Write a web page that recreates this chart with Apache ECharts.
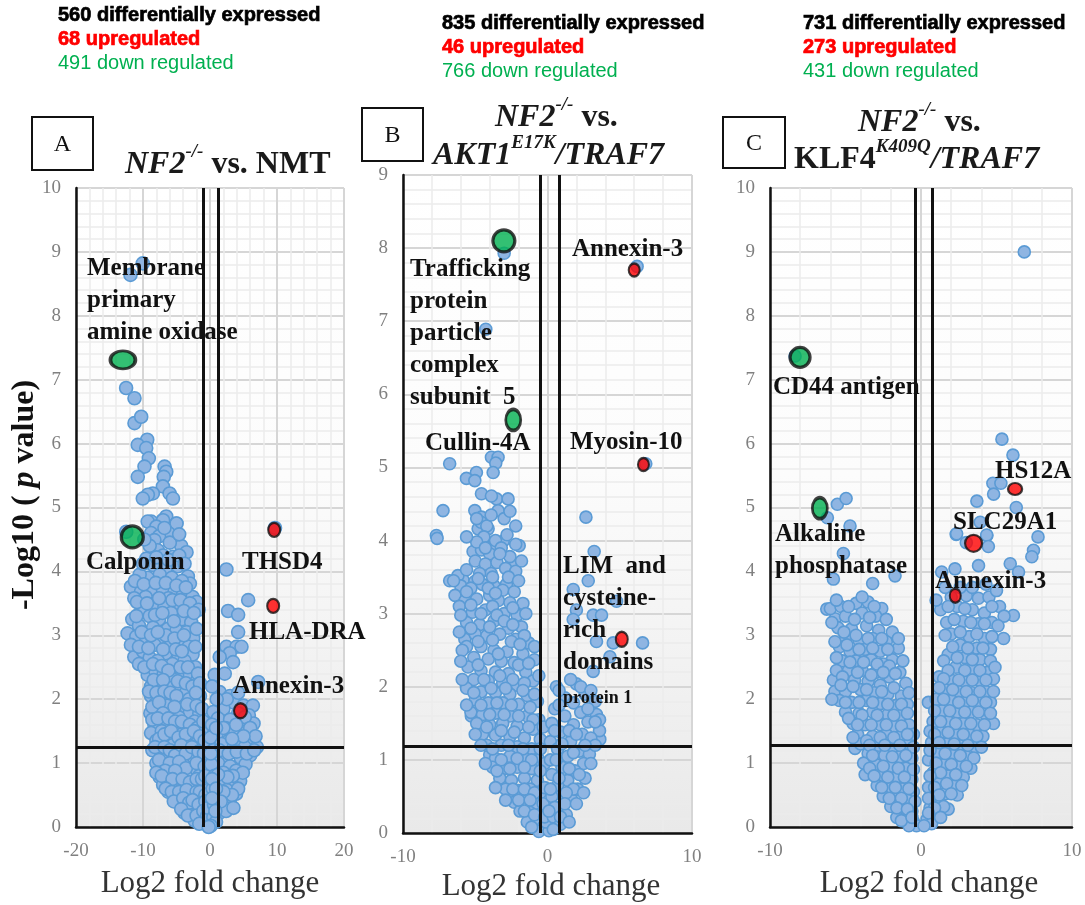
<!DOCTYPE html>
<html><head><meta charset="utf-8">
<script src="https://cdn.jsdelivr.net/npm/echarts@6/dist/echarts.min.js"></script>
<style>html,body{margin:0;padding:0;background:#fff}#c{width:1085px;height:905px}</style>
</head><body><div id="c"></div>
<script>
// ---------------- DATA ----------------
// Panel A: NF2-/- vs NMT
const aBlue = [
  [-10.03,8.82],[-11.87,8.64],[-12.52,6.87],[-11.27,6.71],[-11.27,6.32],[-10.27,6.42],[-9.37,6.06],[-10.78,5.98],[-9.52,5.93],[-9.13,5.77],
  [-9.78,5.64],[-6.78,5.64],[-6.53,5.56],[-6.9,5.48],[-10.78,5.48],[-7.03,5.33],[-6.03,5.22],[-5.53,5.14],[-8.53,5.22],[-9.28,5.2],
  [-10.03,5.14],[-8.77,4.78],[-7.03,4.8],[-6.53,4.86],[-5.03,4.75],[-5.28,4.65],[-12.5,4.62],[9.7,4.68],
  [-9.3,4.78],[-7.0,4.8],[-8.0,4.7],[-5.0,4.75],[-8.8,4.6],[-6.2,4.6],[-7.6,4.55],
  [-8.3,4.49],[-4.3,4.4],[-7.8,4.33],[-9.0,4.4],[-6.0,4.45],[-5.5,4.23],[-7.0,4.25],[-9.5,4.2],[-3.5,4.3],
  [-8.5,4.1],[-6.6,4.05],[-4.8,4.08],[-3.3,3.92],[-3.0,3.81],[-7.5,3.95],[-9.3,3.9],[-10.5,3.95],[-5.7,3.9],[-4.2,3.85],
  [-11.8,3.76],[-10.3,3.68],[-8.8,3.72],[-7.0,3.7],[-5.3,3.68],[-4.0,3.65],[-2.6,3.6],[-9.6,3.6],[-6.2,3.58],
  [-11.3,3.58],[-2.0,3.52],[-8.2,3.5],[-6.8,3.45],[-4.8,3.48],[-3.4,3.42],[-10.2,3.4],[-5.8,3.35],[-9.0,3.3],
  [-11.6,3.25],[-7.6,3.25],[-4.2,3.25],[-2.8,3.2],[-10.6,3.15],[-8.5,3.12],[-6.3,3.1],[-5.0,3.08],[-3.5,3.05],
  [-12.3,3.03],[-11.0,2.98],[-9.5,2.95],[-7.2,2.95],[-2.5,2.95],[-4.5,2.9],[-8.3,2.85],[-5.8,2.85],[-3.2,2.82],
  [-11.3,2.66],[-10.0,2.75],[-6.6,2.72],[-2.6,2.7],[-9.0,2.65],[-7.8,2.6],[-4.8,2.62],[-3.8,2.6],[-5.6,2.55],[-2.2,2.5],
  [-9.3,2.38],[-8.2,2.45],[-6.9,2.4],[-4.2,2.4],[-3.0,2.38],[-5.3,2.3],[-7.6,2.25],[-2.0,2.28],[-8.8,2.2],[-6.2,2.18],
  [-8.8,2.05],[-4.6,2.12],[-3.6,2.1],[-7.2,2.02],[-1.5,2.05],[-5.5,2.0],[-2.6,1.98],[-8.2,1.92],[-6.4,1.9],[-4.0,1.88],
  [-8.9,1.78],[-7.5,1.8],[-3.0,1.8],[-1.6,1.78],[-5.8,1.75],[-4.7,1.72],[-6.8,1.65],[-2.3,1.65],[-8.3,1.6],[-3.6,1.6],
  [-8.8,1.47],[-7.2,1.5],[-5.2,1.52],[-1.2,1.5],[-4.2,1.45],[-2.8,1.42],[-6.3,1.4],[-8.0,1.35],[-1.8,1.33],[-3.5,1.3],[-5.6,1.28],
  [-8.6,1.2],[-7.3,1.18],[-4.8,1.18],[-2.2,1.15],[-6.4,1.1],[-3.2,1.08],[-1.3,1.05],[-8.0,1.0],[-5.5,1.0],[-4.0,0.98],[-7.0,0.92],[-2.6,0.92],
  [-7.5,0.78],[-6.0,0.82],[-4.6,0.8],[-3.5,0.78],[-1.6,0.8],[-7.0,0.66],[-5.3,0.65],[-2.5,0.68],[-4.0,0.6],[-1.0,0.62],[-6.2,0.55],[-3.0,0.5],[-5.0,0.48],
  [-4.5,0.38],[-3.6,0.35],[-2.2,0.4],[-1.2,0.42],[-2.8,0.25],[-1.7,0.22],[-0.8,0.28],[-3.8,0.22],[-2.3,0.1],[-1.2,0.08],[-0.6,0.05],[-0.9,0.15],
  [-9.8,4.5],[-4.6,4.58],[-6.8,4.68],[-10.0,4.12],[-8.0,4.22],[-6.2,4.18],[-4.6,4.25],[-3.8,4.12],
  [-11.2,3.85],[-9.9,3.8],[-8.1,3.82],[-6.6,3.82],[-5.0,3.78],[-3.6,3.75],
  [-10.9,3.52],[-9.4,3.5],[-7.6,3.58],[-5.6,3.55],[-4.4,3.55],[-3.0,3.5],[-1.7,3.4],
  [-11.0,3.3],[-8.2,3.32],[-7.1,3.35],[-5.4,3.22],[-3.9,3.38],[-2.4,3.35],
  [-10.2,3.05],[-8.8,3.0],[-6.6,3.0],[-5.3,2.95],[-3.9,3.0],[-2.0,3.1],[-7.8,3.05],
  [-11.8,2.85],[-10.6,2.82],[-9.2,2.8],[-7.0,2.78],[-5.1,2.78],[-4.2,2.75],[-2.2,2.82],
  [-10.6,2.55],[-9.8,2.5],[-8.5,2.55],[-7.2,2.52],[-6.2,2.45],[-4.4,2.5],[-3.3,2.5],[-1.8,2.4],
  [-8.4,2.3],[-7.0,2.3],[-4.8,2.28],[-3.6,2.25],[-2.6,2.2],[-1.5,2.25],
  [-9.1,2.12],[-8.0,2.1],[-6.8,2.12],[-5.9,2.1],[-5.0,2.05],[-3.1,2.0],[-2.1,2.1],
  [-8.6,1.88],[-7.6,1.95],[-5.3,1.88],[-3.4,1.92],[-2.0,1.9],[-1.2,1.85],[-7.0,1.78],
  [-8.6,1.68],[-7.8,1.7],[-6.2,1.7],[-5.2,1.65],[-4.2,1.65],[-3.0,1.6],[-1.9,1.55],[-1.0,1.65],
  [-7.6,1.38],[-6.8,1.45],[-5.8,1.5],[-4.7,1.4],[-3.6,1.45],[-2.4,1.5],[-1.5,1.42],[-0.8,1.35],
  [-8.2,1.25],[-6.8,1.25],[-6.0,1.2],[-5.2,1.12],[-4.3,1.28],[-3.6,1.15],[-2.7,1.25],[-1.7,1.18],[-0.9,1.15],
  [-7.6,1.05],[-6.0,1.0],[-4.6,1.02],[-3.6,0.92],[-2.0,1.0],[-0.8,0.95],[-6.7,0.88],[-5.2,0.88],
  [-8.0,0.85],[-7.2,0.8],[-5.6,0.75],[-4.1,0.75],[-3.0,0.7],[-2.0,0.75],[-1.2,0.75],[-0.7,0.8],
  [-6.6,0.6],[-5.7,0.55],[-4.6,0.55],[-3.5,0.58],[-2.0,0.55],[-1.5,0.55],[-0.7,0.5],
  [-5.4,0.4],[-4.0,0.45],[-3.1,0.38],[-2.6,0.42],[-1.7,0.35],[-0.7,0.4],
  [-4.3,0.28],[-3.3,0.18],[-2.0,0.18],[-1.0,0.25],[-0.4,0.18],[-1.6,0.05],[-0.3,0.3],
  [2.45,4.03],[5.7,3.55],[2.7,3.38],[4.2,3.32],[4.2,3.05],[2.45,2.82],[3.95,2.82],[4.7,2.82],[2.95,2.72],[1.45,2.66],[3.45,2.58],[0.7,2.38],[7.19,2.27],[1.45,2.11],[3.0,2.05],
  [3.5,1.95],[5.0,1.9],[6.4,1.9],[2.0,1.85],[0.5,1.8],[4.2,1.78],[5.8,1.75],[1.2,1.7],[3.0,1.68],[6.5,1.62],[0.3,1.6],[4.8,1.6],[2.3,1.55],[5.5,1.5],[3.6,1.48],
  [1.0,1.45],[0.1,1.4],[6.2,1.38],[4.3,1.35],[2.8,1.35],[1.7,1.3],[7.0,1.25],[5.2,1.25],[0.5,1.2],[3.5,1.18],[6.0,1.12],[2.2,1.1],[4.6,1.08],[1.2,1.0],[0.2,0.98],
  [5.3,0.98],[3.0,0.95],[3.9,0.88],[2.0,0.85],[0.7,0.8],[4.5,0.72],[1.5,0.7],[3.2,0.68],[2.5,0.58],[0.4,0.6],[3.9,0.52],[1.2,0.48],[2.9,0.4],[0.6,0.35],[2.0,0.32],
  [1.4,0.22],[0.5,0.15],[0.9,0.08],[0.1,0.02],[-0.2,0.0],
  [0.3,2.2],[2.2,2.4],[2.5,2.0],[4.2,2.1],[1.0,2.0],[5.2,1.72],[6.0,1.55],[3.9,1.6],[2.0,1.55],[0.9,1.55],[6.8,1.42],[5.0,1.42],[3.3,1.38],
  [1.4,1.2],[2.8,1.15],[4.0,1.18],[5.5,1.15],[6.6,1.2],[0.1,1.15],[4.9,0.85],[3.4,0.8],[2.6,0.78],[1.2,0.82],[0.3,0.75],[4.2,0.6],[3.3,0.5],
  [2.0,0.55],[0.9,0.6],[2.4,0.25],[1.6,0.4],[0.3,0.45],[0.8,0.25],[3.5,0.3]
];
const aGreen = [[-13.0,7.31],[-11.6,4.54]];
const aRed = [[9.58,4.65],[9.43,3.46],[4.55,1.82]];

// Panel B: NF2-/- vs AKT1 E17K / TRAF7
const bBlue = [
  [-3.0,7.93],[-4.27,6.89],[-6.77,5.05],[-3.88,5.14],[-3.42,5.14],[-3.58,5.06],[-4.92,4.93],[-5.61,4.85],[-5.03,4.82],[-3.76,4.93],
  [-4.57,4.64],[-3.53,4.57],[-2.73,4.57],[-3.88,4.61],[-7.23,4.41],[-5.03,4.41],[-4.57,4.32],[-3.42,4.41],[2.66,4.32],[-7.69,4.07],
  [-4.8,4.16],[-4.11,4.16],[6.2,7.75],[6.8,5.05],
  [-7.64,4.03],[-4.6,4.25],[-4.2,4.2],[-5.15,3.85],[-4.57,3.87],[-3.88,3.92],[-3.07,3.99],[-1.96,3.93],[3.23,3.85],[-6.77,3.45],
  [-5.84,3.46],[-5.03,3.44],[-2.84,3.4],[-2.5,3.67],[2.82,3.45],[1.78,3.33],[4.78,3.17],[2.0,3.05],[3.16,2.98],[3.74,2.98],
  [1.78,2.92],[-5.72,2.65],[3.39,2.62],[4.55,2.6],[6.58,2.6],[4.32,2.41],[3.16,2.21],[2.0,2.04],[0.62,2.0],[-5.61,2.0],
  [-5.27,1.6],[3.39,1.62],[3.62,1.28],[-4.0,1.07],[-2.73,0.5],
  [-4.4,4.05],[-3.6,4.0],[-2.8,4.08],[-2.2,3.95],[-4.9,3.98],[-3.2,3.9],[-4.0,3.82],[-2.6,3.78],
  [-5.0,3.72],[-4.3,3.68],[-3.5,3.7],[-2.9,3.62],[-2.2,3.58],[-3.9,3.55],[-4.7,3.55],[-6.2,3.52],
  [-6.0,3.38],[-5.3,3.35],[-4.5,3.4],[-3.7,3.38],[-3.1,3.32],[-2.3,3.3],[-6.4,3.25],[-4.0,3.25],
  [-5.7,3.18],[-4.9,3.2],[-3.4,3.18],[-2.6,3.15],[-1.7,3.14],[-6.1,3.1],[-4.3,3.05],[-3.0,3.0],[-5.2,3.02],[-2.1,2.98],
  [-5.6,2.88],[-4.7,2.85],[-3.7,2.9],[-1.8,2.82],[-2.7,2.8],[-5.0,2.72],[-4.2,2.7],[-3.3,2.72],[-2.2,2.65],[-1.3,2.6],
  [-5.6,2.55],[-4.6,2.55],[-3.7,2.5],[-2.8,2.48],[-1.7,2.45],[-5.1,2.4],[-4.1,2.38],[-3.2,2.35],[-2.3,2.33],[-0.9,2.37],[-5.5,2.27],
  [-4.6,2.22],[-3.6,2.2],[-2.7,2.18],[-1.5,2.2],[-1.0,2.08],[-5.1,2.1],[-4.1,2.08],[-3.1,2.05],[-2.1,2.02],[-5.6,1.98],[-4.6,1.93],
  [-3.6,1.92],[-2.6,1.9],[-1.4,1.88],[-5.0,1.82],[-4.1,1.78],[-3.1,1.78],[-2.0,1.76],[-0.7,1.8],[-5.3,1.65],[-4.5,1.62],[-3.6,1.64],
  [-2.6,1.6],[-1.4,1.6],[-0.6,1.55],[-4.9,1.5],[-4.0,1.48],[-3.1,1.5],[-2.1,1.46],[-1.0,1.42],[-4.5,1.35],[-3.6,1.34],[-2.6,1.32],[-1.6,1.3],[-0.5,1.28],
  [-4.2,1.2],[-3.2,1.2],[-2.1,1.18],[-1.1,1.15],[-3.6,1.02],[-2.6,1.05],[-1.6,1.02],[-0.6,1.0],
  [-3.8,0.9],[-3.0,0.88],[-2.1,0.9],[-1.1,0.88],[-3.3,0.75],[-2.5,0.72],[-1.6,0.75],[-0.7,0.72],[-2.9,0.6],[-2.0,0.58],[-1.2,0.6],[-0.5,0.55],
  [-2.3,0.42],[-1.6,0.45],[-0.9,0.4],[-1.9,0.3],[-1.2,0.28],[-0.5,0.25],[-1.4,0.15],[-0.8,0.12],[-0.3,0.08],[-0.6,0.02],[0.1,0.03],[-0.1,0.15],
  [-3.9,4.35],[-3.0,4.3],[-2.2,4.2],[-4.9,4.3],[-5.6,4.05],[-2.6,4.4],
  [-5.6,3.6],[-4.3,3.9],[-3.3,3.82],[-2.7,3.5],[-1.8,3.72],[-3.8,3.5],
  [-6.5,3.45],[-5.6,3.3],[-4.8,3.48],[-4.1,3.35],[-2.0,3.45],[-3.6,3.28],
  [-6.0,2.98],[-5.3,3.12],[-4.6,3.0],[-3.8,3.1],[-2.4,3.08],[-1.5,3.0],[-3.5,2.98],
  [-6.1,2.75],[-5.3,2.8],[-4.0,2.82],[-3.0,2.9],[-2.4,2.85],[-1.6,2.7],[-0.9,2.55],[-5.9,2.5],
  [-4.8,2.62],[-3.8,2.64],[-2.5,2.62],[-1.9,2.58],[-3.4,2.45],[-2.0,2.3],[-1.3,2.32],[-4.8,2.3],[-6.0,2.35],
  [-5.9,2.1],[-4.4,2.1],[-3.3,2.15],[-2.4,2.1],[-1.6,2.05],[-0.6,2.15],[-5.1,1.92],[-3.9,1.98],[-2.9,1.98],[-1.7,1.95],[-0.9,1.9],
  [-5.6,1.75],[-4.6,1.75],[-3.5,1.78],[-2.5,1.75],[-1.2,1.72],[-4.0,1.62],[-3.0,1.62],[-2.0,1.6],[-1.0,1.55],
  [-5.0,1.35],[-4.2,1.45],[-3.2,1.4],[-2.3,1.38],[-1.3,1.45],[-0.3,1.45],
  [-4.6,1.2],[-3.8,1.15],[-2.7,1.2],[-1.7,1.15],[-0.5,1.15],[-3.2,1.0],[-2.1,1.02],[-1.1,1.0],[-0.2,0.95],
  [-4.3,0.95],[-3.5,0.85],[-2.6,0.88],[-1.6,0.9],[-0.5,0.85],[-3.6,0.62],[-2.4,0.6],[-1.6,0.6],[-0.9,0.55],[-0.2,0.62],
  [-2.9,0.45],[-2.0,0.45],[-1.2,0.45],[-0.3,0.4],[-1.6,0.3],[-0.9,0.25],[-1.1,0.08],[-0.2,0.22],
  [1.2,1.85],[2.6,1.9],[3.3,1.8],[1.8,1.78],[0.5,1.7],[2.3,1.65],[1.2,1.6],[0.3,1.5],[2.8,1.52],[1.8,1.48],[3.6,1.4],[0.9,1.38],[2.4,1.35],
  [3.0,1.3],[0.2,1.25],[1.6,1.25],[0.7,1.15],[2.2,1.12],[2.9,1.08],[1.4,1.05],[0.2,1.0],[2.5,0.95],[1.0,0.9],[1.9,0.85],[0.3,0.8],[2.6,0.75],
  [1.4,0.72],[0.7,0.65],[2.1,0.6],[1.0,0.52],[0.3,0.5],[1.7,0.45],[0.8,0.35],[1.3,0.25],[0.4,0.22],[0.9,0.12],[0.4,0.05],
  [0.8,1.95],[1.6,2.1],[2.3,2.0],[3.0,1.95],[0.8,1.75],[2.8,1.7],[3.6,1.55],[1.5,1.4],[0.5,1.4],[2.0,1.35],[3.3,1.2],[1.0,1.22],[2.6,1.2],
  [1.8,1.1],[0.6,1.0],[3.0,0.95],[1.5,0.88],[2.2,0.8],[0.8,0.75],[1.8,0.6],[2.5,0.55],[1.3,0.55],[0.5,0.35],[1.2,0.4],[2.0,0.4],[0.9,0.22],
  [1.5,0.15],[0.1,0.3],[0.2,0.6],[3.3,1.52]
];
const bGreen = [[-3.02,8.1],[-2.37,5.65]];
const bRed = [[6.0,7.7],[6.64,5.04],[5.14,2.65]];

// Panel C: NF2-/- vs KLF4 K409Q / TRAF7
const cBlue = [
  [6.84,9.0],[-8.34,7.37],[5.36,6.07],[6.09,5.82],[4.76,5.38],[5.29,5.38],[4.81,5.21],[3.7,5.1],[6.31,5.0],[7.75,4.54],
  [3.92,4.77],[2.33,4.58],[4.36,4.56],[-5.54,5.05],[-4.96,5.14],[-6.2,4.84],[-4.7,4.71],[7.45,4.33],[7.34,4.23],[3.81,4.09],
  [5.91,4.12],[6.46,3.99],[2.25,4.04],[1.37,3.99],[-1.72,3.93],[-3.2,3.81],[-5.14,4.28],[-5.8,3.88],[6.12,3.31],[5.47,2.95],
  [4.8,1.62],[-4.37,1.23],[-3.7,0.82],[-6.24,3.41],[-5.69,3.26],[0.49,1.95],[2.36,4.59],[4.35,4.57],[4.46,4.39],[3.0,4.45],
  [-6.0,3.42],[-5.3,3.45],[-4.3,3.5],[-3.5,3.52],[-2.6,3.42],[-5.0,3.3],[-3.9,3.35],[-3.0,3.3],
  [-5.5,3.12],[-4.6,3.1],[-3.6,3.15],[-2.8,3.08],[-1.9,3.05],[-5.0,2.95],[-4.1,2.92],[-3.2,2.95],[-2.3,2.9],
  [-5.4,2.82],[-4.7,2.75],[-3.7,2.78],[-2.7,2.75],[-1.5,2.8],[-1.9,2.62],[-5.2,2.6],[-4.3,2.6],[-3.3,2.62],[-2.5,2.55],
  [-5.8,2.3],[-5.6,2.45],[-4.8,2.45],[-3.9,2.45],[-3.0,2.42],[-1.4,2.42],[-2.1,2.35],[-4.4,2.3],[-3.5,2.28],[-1.0,2.25],[-2.7,2.22],
  [-5.7,2.12],[-5.0,2.12],[-4.0,2.15],[-3.1,2.1],[-2.2,2.08],[-1.3,2.05],[-5.4,1.98],[-4.6,1.95],[-3.6,1.98],[-2.7,1.93],[-1.7,1.9],[-0.9,1.92],
  [-5.0,1.8],[-4.1,1.78],[-3.2,1.8],[-2.2,1.76],[-1.3,1.75],[-4.5,1.62],[-3.7,1.6],[-2.7,1.6],[-1.8,1.58],[-0.8,1.6],[-4.2,1.45],[-3.2,1.42],[-2.3,1.45],[-1.3,1.42],
  [-4.0,1.3],[-2.8,1.28],[-1.9,1.25],[-0.8,1.3],[-3.5,1.15],[-2.4,1.12],[-1.4,1.1],[-0.6,1.08],[-3.8,1.0],[-3.0,0.98],[-2.0,0.95],[-1.0,0.92],
  [-2.6,0.8],[-1.6,0.78],[-0.6,0.75],[-2.9,0.65],[-2.1,0.62],[-1.2,0.6],[-0.5,0.55],[-2.5,0.48],[-1.7,0.45],[-0.9,0.42],[-2.0,0.32],[-1.3,0.28],
  [-0.6,0.25],[-1.6,0.15],[-1.0,0.12],[-0.5,0.08],[-0.3,0.02],[-0.8,0.02],
  [-5.6,3.55],[-4.8,3.45],[-3.9,3.6],[-3.1,3.45],[-2.3,3.25],[-4.4,3.25],[-3.4,3.28],[-5.9,3.2],
  [-5.1,3.05],[-4.3,3.0],[-3.5,2.95],[-2.6,2.95],[-1.5,2.95],[-5.7,2.9],[-4.9,2.85],[-4.1,2.78],[-3.2,2.8],[-2.2,2.78],
  [-5.6,2.65],[-4.7,2.58],[-3.8,2.58],[-2.9,2.55],[-2.1,2.52],[-1.2,2.6],[-5.2,2.35],[-4.2,2.42],[-3.3,2.38],[-2.5,2.42],[-1.7,2.4],
  [-5.3,2.22],[-4.5,2.2],[-3.6,2.15],[-2.6,2.12],[-1.8,2.18],[-0.8,2.1],[-5.9,2.0],[-5.0,1.95],[-4.1,1.95],[-3.2,1.95],[-2.2,1.92],[-1.3,1.92],
  [-4.8,1.7],[-3.9,1.75],[-2.9,1.75],[-1.8,1.75],[-0.9,1.78],[-4.2,1.6],[-3.3,1.6],[-2.3,1.6],[-1.3,1.58],[-0.5,1.45],
  [-4.5,1.4],[-3.6,1.35],[-2.7,1.4],[-1.8,1.4],[-0.9,1.45],[-3.4,1.28],[-2.4,1.28],[-1.4,1.28],[-0.5,1.25],
  [-3.2,1.12],[-1.9,1.1],[-1.0,1.12],[-3.4,0.92],[-2.5,0.95],[-1.5,0.92],[-0.5,0.9],
  [-3.1,0.8],[-2.2,0.78],[-1.1,0.78],[-2.6,0.62],[-1.7,0.62],[-0.8,0.6],[-2.1,0.45],[-1.3,0.45],[-0.4,0.4],[-1.6,0.3],[-0.9,0.28],[-1.3,0.1],[-0.6,0.15],
  [2.0,3.6],[3.0,3.62],[3.8,3.58],[4.5,3.6],[5.2,3.45],[1.3,3.4],[2.4,3.45],[3.4,3.4],[4.2,3.35],[5.5,3.3],[1.7,3.2],[2.8,3.22],[3.8,3.18],[4.7,3.2],
  [2.0,3.02],[3.2,2.98],[4.2,2.95],[2.6,2.85],[3.7,2.8],[4.6,2.78],[1.8,2.7],[2.9,2.65],[3.9,2.62],[2.3,2.5],[3.4,2.48],[4.4,2.42],
  [1.2,2.35],[2.0,2.3],[2.9,2.28],[3.8,2.3],[4.8,2.32],[1.6,2.15],[2.5,2.12],[3.4,2.1],[4.3,2.12],[1.0,2.0],[2.0,1.98],[2.9,1.95],[3.9,1.95],[4.6,1.95],
  [1.4,1.82],[2.4,1.8],[3.3,1.8],[4.2,1.78],[0.8,1.65],[1.8,1.65],[2.8,1.62],[3.7,1.6],[0.6,1.5],[1.3,1.48],[2.3,1.45],[3.2,1.45],[4.1,1.42],
  [0.7,1.32],[1.7,1.3],[2.7,1.28],[3.6,1.25],[1.1,1.15],[2.1,1.12],[3.0,1.1],[0.5,1.05],[1.5,0.98],[2.5,0.95],[3.3,0.92],
  [0.8,0.85],[1.8,0.8],[2.8,0.78],[1.2,0.68],[2.2,0.65],[0.5,0.62],[1.6,0.52],[2.4,0.5],[0.9,0.45],[1.3,0.35],[0.6,0.3],[1.8,0.28],[1.0,0.18],
  [0.4,0.12],[0.7,0.05],[0.2,0.02],
  [1.6,3.75],[2.6,3.75],[3.4,3.75],[4.3,3.8],[5.0,3.7],[1.0,3.55],[1.8,3.45],[2.9,3.42],[4.7,3.45],[2.2,3.25],[3.3,3.2],[4.2,3.18],[5.1,3.15],
  [1.6,3.0],[2.6,3.05],[3.7,3.02],[4.7,2.98],[2.1,2.82],[3.1,2.8],[4.1,2.8],[1.5,2.6],[2.4,2.65],[3.4,2.62],[4.6,2.6],[1.8,2.45],[2.9,2.45],[3.9,2.45],[4.9,2.5],
  [1.5,2.32],[2.5,2.3],[3.4,2.3],[4.3,2.3],[1.2,2.18],[2.1,2.15],[3.0,2.12],[3.9,2.12],[4.8,2.12],[1.5,2.0],[2.5,1.95],[3.4,1.98],[4.3,1.95],
  [0.9,1.82],[1.9,1.82],[2.9,1.8],[3.8,1.8],[4.6,1.78],[1.3,1.65],[2.3,1.62],[3.3,1.62],[4.2,1.6],[0.9,1.45],[1.8,1.48],[2.8,1.45],[3.7,1.42],
  [1.2,1.32],[2.2,1.3],[3.1,1.28],[4.0,1.25],[0.6,1.2],[1.6,1.15],[2.6,1.12],[3.5,1.08],[1.0,1.0],[2.0,0.98],[3.0,0.95],
  [1.3,0.85],[2.3,0.82],[0.6,0.8],[1.7,0.68],[2.7,0.65],[0.9,0.62],[2.0,0.52],[1.2,0.5],[0.5,0.45],[1.5,0.32],[0.9,0.3],[0.5,0.22],[1.3,0.15]
];
const cGreen = [[-8.01,7.35],[-6.7,4.99]];
const cRed = [[6.23,5.29],[3.48,4.44],[2.27,3.62]];

// thresholds (log2 fold change cut-offs and -log10 p cut-off)
const aCut = {x: [-1.0, 1.2], y: 1.25};
const bCut = {x: [-0.5, 0.78], y: 1.18};
const cCut = {x: [-0.4, 0.75], y: 1.28};

// text
const counts = [
  ['560 differentially expressed', '68 upregulated', '491 down regulated'],
  ['835 differentially expressed', '46 upregulated', '766 down regulated'],
  ['731 differentially expressed', '273 upregulated', '431 down regulated']
];
const panelLetters = ['A', 'B', 'C'];
const xTitle = 'Log2 fold change';

// ---------------- STYLE / LAYOUT ----------------
const aGreenSize = [[25, 18], [22, 22]];
const aRedSize = [[12, 14], [12, 14], [13, 15]];
const bGreenSize = [[22, 22], [15, 21]];
const bRedSize = [[11, 13], [11, 13], [12, 15]];
const cGreenSize = [[20, 20], [15, 21]];
const cRedSize = [[14, 12], [17, 17], [11, 14]];

const grids = [
  {left: 76, top: 188, width: 268, height: 639},
  {left: 403, top: 175, width: 289, height: 658},
  {left: 770, top: 188, width: 302, height: 639}
];
const xRanges = [[-20, 20], [-10, 10], [-10, 10]];
const yMax = [10, 9, 10];

const SERIF = '"Liberation Serif", "Times New Roman", serif';
const SANS = '"Liberation Sans", Arial, sans-serif';

const chart = echarts.init(document.getElementById('c'));

const bg = new echarts.graphic.LinearGradient(0, 0, 0, 1, [
  {offset: 0, color: '#ffffff'}, {offset: 0.45, color: '#fcfcfc'}, {offset: 1, color: '#e9e9e9'}
]);

const axisLabel = {color: '#808080', fontFamily: SERIF, fontSize: 19, margin: 15};
const xAxes = xRanges.map((r, i) => ({
  gridIndex: i, type: 'value', min: r[0], max: r[1], interval: 10,
  axisLine: {show: true, onZero: false, lineStyle: {color: '#111', width: 2.5}},
  axisTick: {show: false},
  minorTick: {show: false, splitNumber: 5},
  splitLine: {show: true, lineStyle: {color: '#d6d6d6', width: 2}},
  minorSplitLine: {show: true, lineStyle: {color: '#ececec', width: 1.5}},
  axisLabel: axisLabel
}));
const yAxes = yMax.map((m, i) => ({
  gridIndex: i, type: 'value', min: 0, max: m, interval: 1,
  axisLine: {show: true, onZero: false, lineStyle: {color: '#111', width: 2.5}},
  axisTick: {show: false},
  minorTick: {show: false, splitNumber: 5},
  splitLine: {show: true, lineStyle: {color: '#d6d6d6', width: 2}},
  minorSplitLine: {show: true, lineStyle: {color: '#ececec', width: 1.5}},
  axisLabel: axisLabel
}));

function panelSeries(i, blue, green, red, gSize, rSize, cut, blueSize) {
  return [
    {
      type: 'scatter', xAxisIndex: i, yAxisIndex: i, data: blue, symbolSize: blueSize, z: 2,
      itemStyle: {color: '#8fb5e2', borderColor: '#5b9bd5', borderWidth: 1.6, opacity: 1},
      silent: true, animation: false, large: false
    },
    {
      type: 'scatter', xAxisIndex: i, yAxisIndex: i, data: [], z: 4, silent: true, animation: false,
      markLine: {
        silent: true, symbol: ['none', 'none'], animation: false,
        label: {show: false},
        lineStyle: {color: '#111', width: 3, type: 'solid'},
        data: [{xAxis: cut.x[0]}, {xAxis: cut.x[1]}, {yAxis: cut.y}]
      }
    },
    {
      type: 'scatter', xAxisIndex: i, yAxisIndex: i, z: 6, silent: true, animation: false,
      data: green.map((p, k) => ({value: p, symbolSize: gSize[k]})),
      itemStyle: {color: '#00b050', borderColor: '#111', borderWidth: 3.2}
    },
    {
      type: 'scatter', xAxisIndex: i, yAxisIndex: i, z: 6, silent: true, animation: false,
      data: red.map((p, k) => ({value: p, symbolSize: rSize[k]})),
      itemStyle: {color: '#ff0000', borderColor: '#111', borderWidth: 2.2}
    }
  ];
}

const series = [].concat(
  panelSeries(0, aBlue, aGreen, aRed, aGreenSize, aRedSize, aCut, 13),
  panelSeries(1, bBlue, bGreen, bRed, bGreenSize, bRedSize, bCut, 12),
  panelSeries(2, cBlue, cGreen, cRed, cGreenSize, cRedSize, cCut, 12)
);

// ---- text graphics ----
const g = [];
const countPos = [[58, 15], [442, 23], [803, 23]];
counts.forEach((c, i) => {
  const [x, y] = countPos[i];
  g.push({type: 'text', x: x, y: y, z: 10, style: {text: c[0], fill: '#000', stroke: '#000', lineWidth: 0.7,
    font: 'bold 20px ' + SANS, textAlign: 'left', textVerticalAlign: 'middle'}});
  g.push({type: 'text', x: x, y: y + 24, z: 10, style: {text: c[1], fill: '#ff0000', stroke: '#ff0000', lineWidth: 0.7,
    font: 'bold 20px ' + SANS, textAlign: 'left', textVerticalAlign: 'middle'}});
  g.push({type: 'text', x: x, y: y + 48, z: 10, style: {text: c[2], fill: '#00b050',
    font: '20px ' + SANS, textAlign: 'left', textVerticalAlign: 'middle'}});
});

// letter boxes
const boxes = [[32, 117, 61, 53], [362, 108, 61, 53], [723, 117, 62, 51]];
boxes.forEach((b, i) => {
  g.push({type: 'rect', shape: {x: b[0], y: b[1], width: b[2], height: b[3]}, z: 10,
    style: {fill: '#fff', stroke: '#111', lineWidth: 2}});
  g.push({type: 'text', x: b[0] + b[2] / 2, y: b[1] + b[3] / 2 + 1, z: 11,
    style: {text: panelLetters[i], fill: '#111', font: '24px ' + SERIF, textAlign: 'center', textVerticalAlign: 'middle'}});
});

const titleRich = {
  bi: {fontFamily: SERIF, fontSize: 32, fontWeight: 'bold', fontStyle: 'italic', fill: '#1a1a1a', lineHeight: 38, verticalAlign: 'bottom'},
  b: {fontFamily: SERIF, fontSize: 32, fontWeight: 'bold', fill: '#1a1a1a', lineHeight: 38, verticalAlign: 'bottom'},
  si: {fontFamily: SERIF, fontSize: 19, fontWeight: 'bold', fontStyle: 'italic', fill: '#1a1a1a', lineHeight: 38, verticalAlign: 'top'}
};
function title(x, y, text) {
  g.push({type: 'text', x: x, y: y, z: 10,
    style: {text: text, rich: titleRich, textAlign: 'left', textVerticalAlign: 'middle'}});
}
title(125, 162, '{bi|NF2}{si|-/-}{b| vs. NMT}');
title(495, 115, '{bi|NF2}{si|-/-}{b| vs.}');
title(433, 153, '{bi|AKT1}{si|E17K}{bi|/TRAF7}');
title(858, 120, '{bi|NF2}{si|-/-}{b| vs.}');
title(794, 157, '{b|KLF4}{si|K409Q}{bi|/TRAF7}');

// y axis title
g.push({type: 'text', x: 25, y: 495, rotation: Math.PI / 2, z: 10,
  style: {text: '{b|-Log10 ( }{bi|p}{b| value)}', textAlign: 'center', textVerticalAlign: 'middle',
    rich: {
      b: {fontFamily: SERIF, fontSize: 32, fontWeight: 'bold', fill: '#111'},
      bi: {fontFamily: SERIF, fontSize: 32, fontWeight: 'bold', fontStyle: 'italic', fill: '#111'}
    }}});

// x axis titles
[[210, 884], [551, 887], [929, 884]].forEach(p => {
  g.push({type: 'text', x: p[0], y: p[1], z: 10,
    style: {text: xTitle, fill: '#333', font: '31px ' + SERIF, textAlign: 'center', textVerticalAlign: 'middle'}});
});

// annotations
const annoFont = 'bold 25px ' + SERIF;
const annotations = [
  {x: 87, y: 253, text: 'Membrane\nprimary\namine oxidase'},
  {x: 86, y: 547, text: 'Calponin'},
  {x: 242, y: 547, text: 'THSD4'},
  {x: 249, y: 617, text: 'HLA-DRA'},
  {x: 233, y: 671, text: 'Annexin-3'},
  {x: 572, y: 234, text: 'Annexin-3'},
  {x: 410, y: 254, text: 'Trafficking\nprotein\nparticle\ncomplex\nsubunit  5'},
  {x: 425, y: 428, text: 'Cullin-4A'},
  {x: 570, y: 427, text: 'Myosin-10'},
  {x: 563, y: 551, text: 'LIM  and\ncysteine-\nrich\ndomains'},
  {x: 563, y: 682, text: 'protein 1', small: true},
  {x: 773, y: 372, text: 'CD44 antigen'},
  {x: 775, y: 519, text: 'Alkaline\nphosphatase'},
  {x: 995, y: 456, text: 'HS12A'},
  {x: 953, y: 507, text: 'SLC29A1'},
  {x: 935, y: 566, text: 'Annexin-3'}
];
annotations.forEach(a => {
  g.push({type: 'text', x: a.x, y: a.y, z: 8,
    style: {text: a.text, fill: '#111', font: a.small ? 'bold 18px ' + SERIF : annoFont,
      lineHeight: 32, textAlign: 'left', textVerticalAlign: 'top'}});
});

chart.setOption({
  animation: false,
  backgroundColor: '#ffffff',
  grid: grids.map(gr => Object.assign({show: true, backgroundColor: bg, borderWidth: 0, containLabel: false}, gr)),
  xAxis: xAxes,
  yAxis: yAxes,
  series: series,
  graphic: g
});
</script></body></html>
